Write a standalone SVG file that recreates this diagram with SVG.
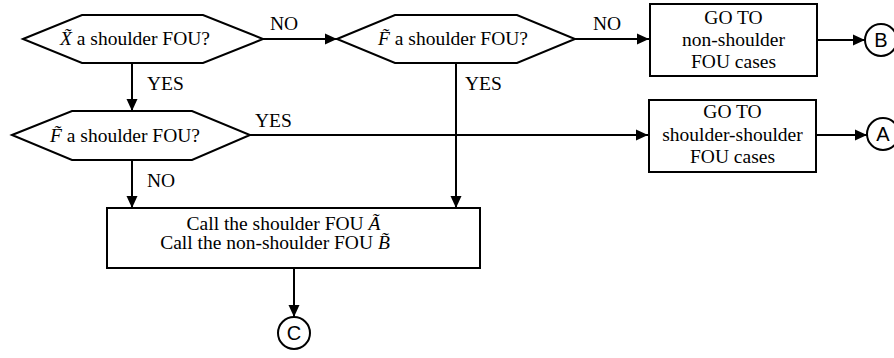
<svg xmlns="http://www.w3.org/2000/svg" width="894" height="358" viewBox="0 0 894 358">
<style>
.shape{fill:#fff;stroke:#000;stroke-width:2}
.conn{fill:none;stroke:#000;stroke-width:2}
.t{font-family:"Liberation Serif","Times New Roman",serif;font-size:19.5px;fill:#000}
.m{text-anchor:middle}
.i{font-style:italic}
.c{font-family:"Liberation Sans",Arial,sans-serif;font-size:20px;fill:#000;text-anchor:middle}
</style>
<defs>
<marker id="ah" markerUnits="userSpaceOnUse" markerWidth="12" markerHeight="12" viewBox="0 0 12 12" refX="12" refY="6" orient="auto">
<path d="M0,0.5 L12,6 L0,11.5 z" fill="#000"/>
</marker>
</defs>
<rect width="894" height="358" fill="#fff"/>
<g id="connectors">
<path class="conn" d="M132,63 V111" marker-end="url(#ah)"/>
<path class="conn" d="M263,39 H337" marker-end="url(#ah)"/>
<path class="conn" d="M575,39 H649" marker-end="url(#ah)"/>
<path class="conn" d="M818,40 H865" marker-end="url(#ah)"/>
<path class="conn" d="M456,63 V208" marker-end="url(#ah)"/>
<path class="conn" d="M250,135 H648" marker-end="url(#ah)"/>
<path class="conn" d="M817,135 H867" marker-end="url(#ah)"/>
<path class="conn" d="M132,160 V208" marker-end="url(#ah)"/>
<path class="conn" d="M294,268 V317" marker-end="url(#ah)"/>
<text class="t" x="270" y="30">NO</text>
<text class="t" x="593" y="30">NO</text>
<text class="t" x="147" y="90">YES</text>
<text class="t" x="465" y="90">YES</text>
<text class="t" x="255" y="127">YES</text>
<text class="t" x="147" y="187">NO</text>
</g>
<g id="hex1">
<polygon class="shape" points="23,39 82,15 203,15 263,39 203,63 82,63"/>
<text class="t" x="60" y="45"><tspan class="i">X̃</tspan> a shoulder FOU?</text>
</g>
<g id="hex3">
<polygon class="shape" points="337,39 395,15 517,15 575,39 517,63 395,63"/>
<text class="t" x="378" y="45"><tspan class="i">F̃</tspan> a shoulder FOU?</text>
</g>
<g id="hex2">
<polygon class="shape" points="12,135 72,111 192,111 250,135 192,160 72,160"/>
<text class="t" x="50" y="142"><tspan class="i">F̃</tspan> a shoulder FOU?</text>
</g>
<g id="rect1">
<rect class="shape" x="650" y="4" width="167" height="72"/>
<text class="t m" x="733.5" y="24">GO TO</text>
<text class="t m" x="733.5" y="46">non-shoulder</text>
<text class="t m" x="733.5" y="68">FOU cases</text>
</g>
<g id="rect2">
<rect class="shape" x="649" y="100" width="167" height="72"/>
<text class="t m" x="732.5" y="118">GO TO</text>
<text class="t m" x="732.5" y="140.5">shoulder-shoulder</text>
<text class="t m" x="732.5" y="163">FOU cases</text>
</g>
<g id="rect3">
<rect class="shape" x="107" y="208" width="373" height="60"/>
<text class="t m" x="283.5" y="230">Call the shoulder FOU <tspan class="i">Ã</tspan></text>
<text class="t m" x="275" y="249">Call the non-shoulder FOU <tspan class="i">B̃</tspan></text>
</g>
<g id="circleB">
<circle class="shape" cx="881" cy="40" r="16"/>
<text class="c" x="881" y="47">B</text>
</g>
<g id="circleA">
<circle class="shape" cx="883" cy="134" r="16"/>
<text class="c" x="883" y="141">A</text>
</g>
<g id="circleC">
<circle class="shape" cx="294" cy="333" r="16"/>
<text class="c" x="294" y="340">C</text>
</g>
</svg>
